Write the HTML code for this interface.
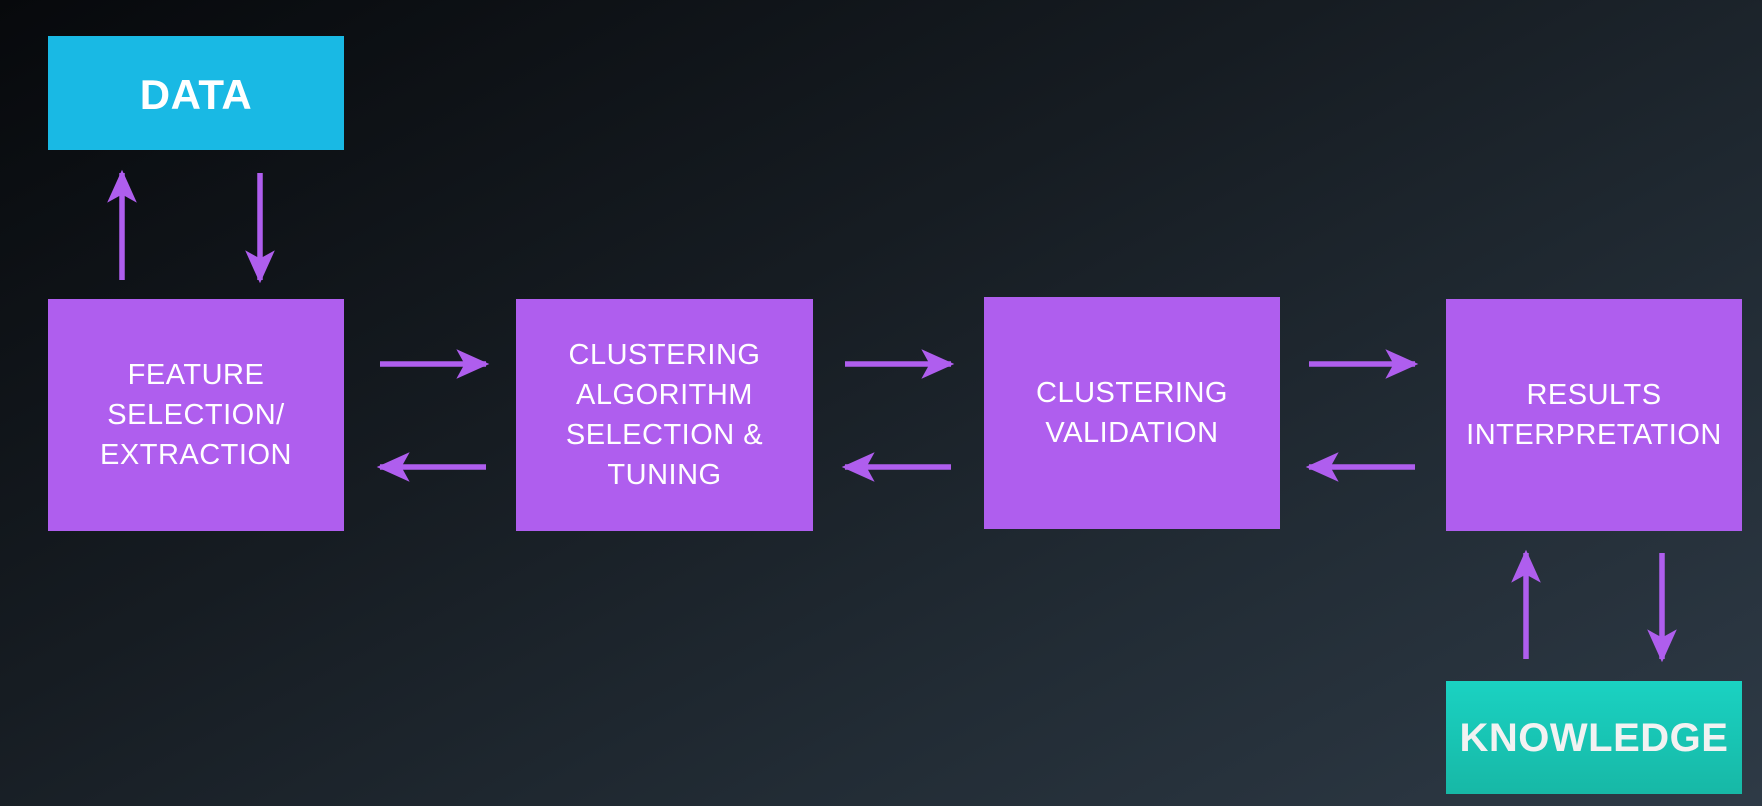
<!DOCTYPE html>
<html><head><style>
html,body{margin:0;padding:0;width:1762px;height:806px;overflow:hidden}
body{position:relative;background:linear-gradient(152deg,#07090c 0%,#161c22 40%,#222c35 70%,#2e3a46 100%);font-family:"Liberation Sans",sans-serif}
.b{position:absolute;background:#af5eee;color:#fff;display:flex;align-items:center;justify-content:center;text-align:center;font-size:29px;line-height:40px;letter-spacing:0.5px}
svg{position:absolute;left:0;top:0}
</style></head><body>
<div class="b" style="left:48px;top:36px;width:296px;height:114px;background:#19b9e4;font-size:42px;font-weight:bold;padding-top:4px;box-sizing:border-box">DATA</div>
<div class="b" style="left:48px;top:299px;width:296px;height:232px">FEATURE<br>SELECTION/<br>EXTRACTION</div>
<div class="b" style="left:516px;top:299px;width:297px;height:232px">CLUSTERING<br>ALGORITHM<br>SELECTION &amp;<br>TUNING</div>
<div class="b" style="left:984px;top:297px;width:296px;height:232px">CLUSTERING<br>VALIDATION</div>
<div class="b" style="left:1446px;top:299px;width:296px;height:232px">RESULTS<br>INTERPRETATION</div>
<div class="b" style="left:1446px;top:681px;width:296px;height:113px;background:linear-gradient(#1ad2c2,#17b8a6)"><span style="font-size:40px;font-weight:bold;color:#f2f2f2">KNOWLEDGE</span></div>
<svg width="1762" height="806">
<defs>
<marker id="a" viewBox="0 0 20 20" refX="18" refY="10" markerWidth="6" markerHeight="6" markerUnits="strokeWidth" orient="auto"><path d="M0,1 L20,10 L0,19 L5,10 Z" fill="#af5eee"/></marker>
</defs>
<g stroke="#af5eee" stroke-width="5.5" fill="none" marker-end="url(#a)">
<line x1="122" y1="280" x2="122" y2="173"/>
<line x1="260" y1="173" x2="260" y2="280"/>
<line x1="380" y1="364" x2="486" y2="364"/>
<line x1="486" y1="467" x2="380" y2="467"/>
<line x1="845" y1="364" x2="951" y2="364"/>
<line x1="951" y1="467" x2="845" y2="467"/>
<line x1="1309" y1="364" x2="1415" y2="364"/>
<line x1="1415" y1="467" x2="1309" y2="467"/>
<line x1="1526" y1="659" x2="1526" y2="553"/>
<line x1="1662" y1="553" x2="1662" y2="659"/>
</g>
</svg>
</body></html>
